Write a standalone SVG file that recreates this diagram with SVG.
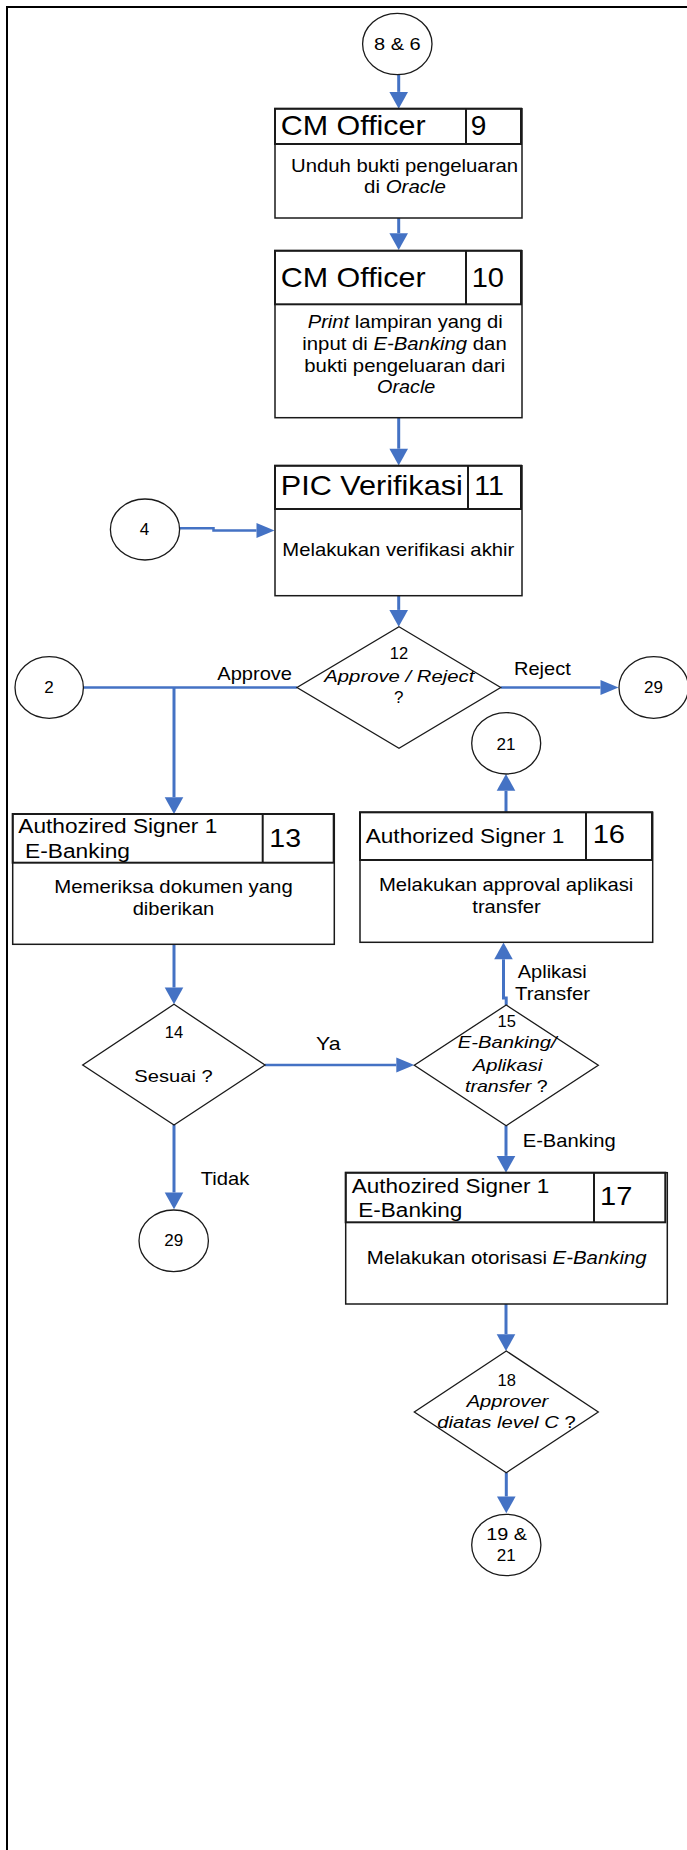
<svg xmlns="http://www.w3.org/2000/svg" width="687" height="1850" viewBox="0 0 687 1850">
  <defs>
    <style>
      .frame { fill: none; stroke: #000; stroke-width: 2; }
      .box { fill: #fff; stroke: #1a1a1a; stroke-width: 1.5; }
      .hdr { fill: none; stroke: #1a1a1a; stroke-width: 2; }
      .shape { fill: #fff; stroke: #1a1a1a; stroke-width: 1.3; }
      .conn { fill: none; stroke: #4472C4; stroke-width: 3; }
      .connH { fill: none; stroke: #4472C4; stroke-width: 2.5; }
      text { font-family: "Liberation Sans", Arial, sans-serif; fill: #000; }
      .role { font-size: 28px; }
      .sig { font-size: 20px; }
      .num { font-size: 26px; }
      .body { font-size: 19px; }
      .lbl { font-size: 18.5px; }
      .dnum { font-size: 16.5px; }
      .dtxt { font-size: 17px; }
      .cnum { font-size: 17px; }
      .it { font-style: italic; }
      .mid { text-anchor: middle; }
    </style>
    <marker id="arrV" markerUnits="userSpaceOnUse" markerWidth="20" markerHeight="20" viewBox="0 -10 18 20" refX="0" refY="0" orient="auto">
      <path d="M0,-9.3 L16.8,0 L0,9.3 z" fill="#4472C4"/>
    </marker>
    <marker id="arrH" markerUnits="userSpaceOnUse" markerWidth="20" markerHeight="20" viewBox="0 -10 19 20" refX="0" refY="0" orient="auto">
      <path d="M0,-7.6 L18,0 L0,7.6 z" fill="#4472C4"/>
    </marker>
  </defs>

  <rect width="687" height="1850" fill="#fff"/>
  <!-- page frame (left and top edges) -->
  <path class="frame" d="M7 1850 V7 H687"/>

  <!-- connectors -->
  <g id="connectors">
    <path class="conn" d="M398.7 74.7 V91.9" marker-end="url(#arrV)"/>
    <path class="conn" d="M398.7 218 V233.2" marker-end="url(#arrV)"/>
    <path class="conn" d="M398.7 417.7 V448.7" marker-end="url(#arrV)"/>
    <path class="connH" d="M179.6 528.3 H213.5 V530.5 H256.5" marker-end="url(#arrH)"/>
    <path class="conn" d="M398.7 595.7 V609.9" marker-end="url(#arrV)"/>
    <path class="connH" d="M500.7 687.5 H600.5" marker-end="url(#arrH)"/>
    <path class="connH" d="M297 687.5 H83.4"/>
    <path class="conn" d="M174 687.5 V797.2" marker-end="url(#arrV)"/>
    <path class="conn" d="M506 812.3 V790.8" marker-end="url(#arrV)"/>
    <path class="conn" d="M506.2 1005 V998 H503.5 V959.3" marker-end="url(#arrV)"/>
    <path class="conn" d="M174 944.3 V987.5" marker-end="url(#arrV)"/>
    <path class="connH" d="M265 1065 H396.3" marker-end="url(#arrH)"/>
    <path class="conn" d="M506 1125.7 V1155.9" marker-end="url(#arrV)"/>
    <path class="conn" d="M174 1125 V1192.5" marker-end="url(#arrV)"/>
    <path class="conn" d="M506 1304 V1334.2" marker-end="url(#arrV)"/>
    <path class="conn" d="M506.3 1472.7 V1496.5" marker-end="url(#arrV)"/>

    <text class="lbl" x="217.3" y="680" textLength="74.7" lengthAdjust="spacingAndGlyphs">Approve</text>
    <text class="lbl" x="514" y="675" textLength="56.7" lengthAdjust="spacingAndGlyphs">Reject</text>
    <text class="lbl" x="517.7" y="978.3" textLength="69" lengthAdjust="spacingAndGlyphs">Aplikasi</text>
    <text class="lbl" x="515" y="999.5" textLength="75" lengthAdjust="spacingAndGlyphs">Transfer</text>
    <text class="lbl" x="316" y="1050" textLength="24.5" lengthAdjust="spacingAndGlyphs">Ya</text>
    <text class="lbl" x="522.7" y="1146.7" textLength="93" lengthAdjust="spacingAndGlyphs">E-Banking</text>
    <text class="lbl" x="200.7" y="1185" textLength="48.6" lengthAdjust="spacingAndGlyphs">Tidak</text>
  </g>

  <!-- off-page references -->
  <g id="ref-8-6">
    <ellipse class="shape" cx="397.3" cy="44" rx="34.7" ry="30.7"/>
    <text class="cnum" x="374" y="50" textLength="46.7" lengthAdjust="spacingAndGlyphs">8 &amp; 6</text>
  </g>
  <g id="ref-4">
    <ellipse class="shape" cx="145" cy="529.5" rx="34.6" ry="30.5"/>
    <text class="cnum mid" x="144.5" y="535.3">4</text>
  </g>
  <g id="ref-2">
    <ellipse class="shape" cx="49.2" cy="687.5" rx="34.2" ry="30.8"/>
    <text class="cnum mid" x="49" y="693.3">2</text>
  </g>
  <g id="ref-29-reject">
    <ellipse class="shape" cx="653.7" cy="687.5" rx="34.7" ry="30.8"/>
    <text class="cnum mid" x="653.5" y="693.3">29</text>
  </g>
  <g id="ref-21">
    <ellipse class="shape" cx="506.2" cy="743.3" rx="34.5" ry="30.7"/>
    <text class="cnum mid" x="506" y="750">21</text>
  </g>
  <g id="ref-29-tidak">
    <ellipse class="shape" cx="173.7" cy="1240.8" rx="34.7" ry="30.8"/>
    <text class="cnum mid" x="173.7" y="1245.7">29</text>
  </g>
  <g id="ref-19-21">
    <ellipse class="shape" cx="506.3" cy="1545" rx="34.6" ry="30.7"/>
    <text class="cnum" x="486.2" y="1540" textLength="40.8" lengthAdjust="spacingAndGlyphs">19 &amp;</text>
    <text class="cnum mid" x="506.3" y="1560.7">21</text>
  </g>

  <!-- step 9 -->
  <g id="step-9">
    <rect class="box" x="275" y="108.7" width="247" height="109.3"/>
    <rect class="hdr" x="275" y="108.7" width="246" height="35.3"/>
    <line class="hdr" x1="466" y1="108.7" x2="466" y2="144"/>
    <text class="role" x="280.7" y="135" textLength="145" lengthAdjust="spacingAndGlyphs">CM Officer</text>
    <text class="role" x="470.7" y="135">9</text>
    <text class="body" x="291" y="172.3" textLength="227" lengthAdjust="spacingAndGlyphs">Unduh bukti pengeluaran</text>
    <text class="body" x="364" y="192.7" textLength="82" lengthAdjust="spacingAndGlyphs">di <tspan class="it">Oracle</tspan></text>
  </g>

  <!-- step 10 -->
  <g id="step-10">
    <rect class="box" x="275" y="250.7" width="247" height="167"/>
    <rect class="hdr" x="275" y="250.7" width="246" height="53.6"/>
    <line class="hdr" x1="466" y1="250.7" x2="466" y2="304.3"/>
    <text class="role" x="280.7" y="286.7" textLength="145" lengthAdjust="spacingAndGlyphs">CM Officer</text>
    <text class="role" x="471.7" y="286.7" textLength="32.3" lengthAdjust="spacingAndGlyphs">10</text>
    <text class="body" x="307.7" y="328.3" textLength="195" lengthAdjust="spacingAndGlyphs"><tspan class="it">Print</tspan> lampiran yang di</text>
    <text class="body" x="302.3" y="350" textLength="204.4" lengthAdjust="spacingAndGlyphs">input di <tspan class="it">E-Banking</tspan> dan</text>
    <text class="body" x="304.3" y="371.7" textLength="201" lengthAdjust="spacingAndGlyphs">bukti pengeluaran dari</text>
    <text class="body it" x="377" y="392.7" textLength="58.3" lengthAdjust="spacingAndGlyphs">Oracle</text>
  </g>

  <!-- step 11 -->
  <g id="step-11">
    <rect class="box" x="275" y="465.7" width="247" height="130"/>
    <rect class="hdr" x="275" y="465.7" width="246" height="43.3"/>
    <line class="hdr" x1="468" y1="465.7" x2="468" y2="509"/>
    <text class="role" x="280.8" y="495" textLength="182" lengthAdjust="spacingAndGlyphs">PIC Verifikasi</text>
    <text class="role" x="474.3" y="495" textLength="29.7" lengthAdjust="spacingAndGlyphs">11</text>
    <text class="body" x="282.3" y="556" textLength="232" lengthAdjust="spacingAndGlyphs">Melakukan verifikasi akhir</text>
  </g>

  <!-- decision 12 -->
  <g id="decision-12">
    <polygon class="shape" points="399,626.7 500.7,687.5 399,748.3 297,687.5"/>
    <text class="dnum mid" x="399" y="659.3">12</text>
    <text class="dtxt it" x="324.3" y="681.7" textLength="150" lengthAdjust="spacingAndGlyphs">Approve / Reject</text>
    <text class="dtxt mid" x="398.7" y="702.7">?</text>
  </g>

  <!-- step 13 -->
  <g id="step-13">
    <rect class="box" x="12.7" y="814" width="321.6" height="130.3"/>
    <rect class="hdr" x="12.7" y="814" width="321" height="48.7"/>
    <line class="hdr" x1="262.7" y1="814" x2="262.7" y2="862.7"/>
    <text class="sig" x="18.3" y="832.7" textLength="199" lengthAdjust="spacingAndGlyphs">Authozired Signer 1</text>
    <text class="sig" x="25" y="857.7" textLength="105" lengthAdjust="spacingAndGlyphs">E-Banking</text>
    <text class="num" x="269.3" y="846.7" textLength="31.7" lengthAdjust="spacingAndGlyphs">13</text>
    <text class="body" x="54.3" y="893.3" textLength="238.4" lengthAdjust="spacingAndGlyphs">Memeriksa dokumen yang</text>
    <text class="body" x="132.7" y="915" textLength="81.6" lengthAdjust="spacingAndGlyphs">diberikan</text>
  </g>

  <!-- step 16 -->
  <g id="step-16">
    <rect class="box" x="360" y="812.3" width="292.7" height="130"/>
    <rect class="hdr" x="360" y="812.3" width="292" height="47.7"/>
    <line class="hdr" x1="586" y1="812.3" x2="586" y2="860"/>
    <text class="sig" x="365.7" y="843.3" textLength="198.7" lengthAdjust="spacingAndGlyphs">Authorized Signer 1</text>
    <text class="num" x="592.7" y="843.3" textLength="32.3" lengthAdjust="spacingAndGlyphs">16</text>
    <text class="body" x="379" y="890.7" textLength="254.3" lengthAdjust="spacingAndGlyphs">Melakukan approval aplikasi</text>
    <text class="body" x="472.3" y="912.7" textLength="68.4" lengthAdjust="spacingAndGlyphs">transfer</text>
  </g>

  <!-- decision 14 -->
  <g id="decision-14">
    <polygon class="shape" points="174,1004.3 265,1065 174,1125 82.7,1065"/>
    <text class="dnum mid" x="174" y="1037.7">14</text>
    <text class="dtxt" x="134.3" y="1081.7" textLength="78.4" lengthAdjust="spacingAndGlyphs">Sesuai ?</text>
  </g>

  <!-- decision 15 -->
  <g id="decision-15">
    <polygon class="shape" points="506.2,1005 598.3,1065.3 506.2,1125.7 414.3,1065.3"/>
    <text class="dnum mid" x="506.7" y="1027.3">15</text>
    <text class="dtxt it" x="457.7" y="1048.3" textLength="99" lengthAdjust="spacingAndGlyphs">E-Banking/</text>
    <text class="dtxt it" x="472.7" y="1070.7" textLength="69.6" lengthAdjust="spacingAndGlyphs">Aplikasi</text>
    <text class="dtxt" x="465" y="1091.7" textLength="82.7" lengthAdjust="spacingAndGlyphs"><tspan class="it">transfer</tspan> ?</text>
  </g>

  <!-- step 17 -->
  <g id="step-17">
    <rect class="box" x="345.7" y="1172.7" width="321.6" height="131.3"/>
    <rect class="hdr" x="345.7" y="1172.7" width="319.6" height="49.6"/>
    <line class="hdr" x1="594" y1="1172.7" x2="594" y2="1222.3"/>
    <text class="sig" x="351.7" y="1192.7" textLength="197.6" lengthAdjust="spacingAndGlyphs">Authozired Signer 1</text>
    <text class="sig" x="358.3" y="1216.7" textLength="104" lengthAdjust="spacingAndGlyphs">E-Banking</text>
    <text class="num" x="600" y="1205" textLength="32.3" lengthAdjust="spacingAndGlyphs">17</text>
    <text class="body" x="366.7" y="1264" textLength="280" lengthAdjust="spacingAndGlyphs">Melakukan otorisasi <tspan class="it">E-Banking</tspan></text>
  </g>

  <!-- decision 18 -->
  <g id="decision-18">
    <polygon class="shape" points="506.3,1351 598.3,1412 506.3,1472.7 414.3,1412"/>
    <text class="dnum mid" x="506.7" y="1385.7">18</text>
    <text class="dtxt it" x="466.7" y="1406.7" textLength="81.6" lengthAdjust="spacingAndGlyphs">Approver</text>
    <text class="dtxt" x="437.3" y="1428.3" textLength="138.4" lengthAdjust="spacingAndGlyphs"><tspan class="it">diatas level C</tspan> ?</text>
  </g>
</svg>
